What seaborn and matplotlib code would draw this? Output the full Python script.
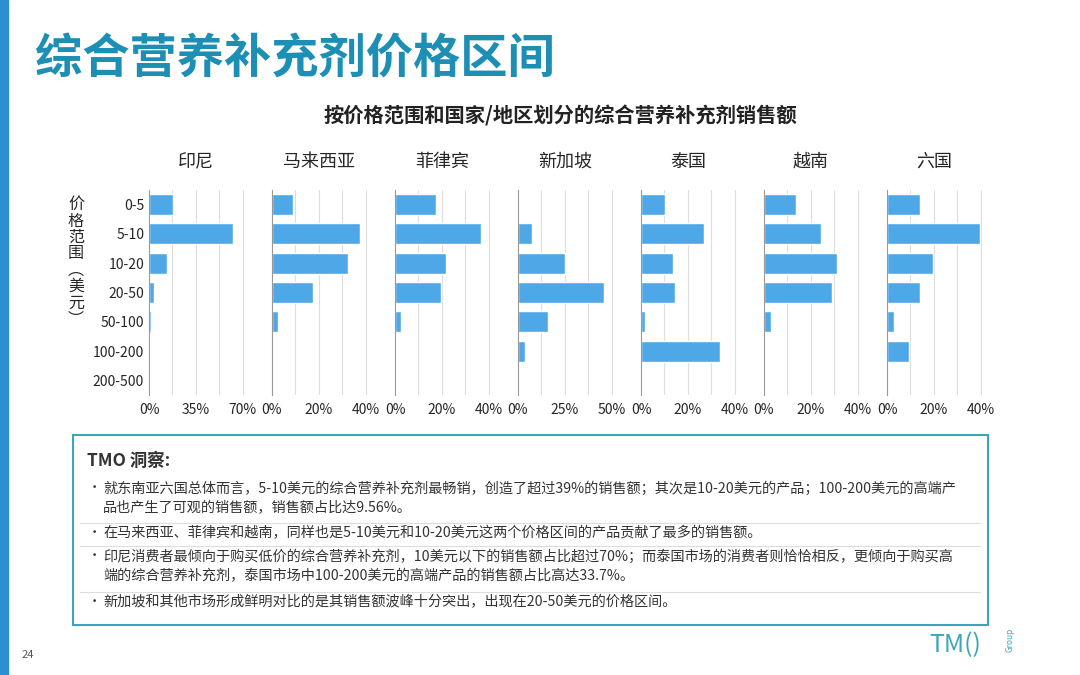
import matplotlib
matplotlib.use("Agg")
import matplotlib.pyplot as plt
import seaborn as sns
import pandas as pd
from matplotlib.patches import Rectangle

sns.set_theme(style="white")
plt.rcParams['font.family'] = ['Noto Sans CJK SC', 'DejaVu Sans']

price_ranges = ["0-5", "5-10", "10-20", "20-50", "50-100", "100-200", "200-500"]
countries = ["印尼", "马来西亚", "菲律宾", "新加坡", "泰国", "越南", "六国"]
indonesia = [17.9, 62.6, 13.4, 3.7, 1.5, 0, 0]
malaysia = [9.0, 37.4, 32.3, 17.4, 2.6, 0, 0]
philippines = [17.4, 36.6, 21.7, 19.6, 2.6, 0.4, 0]
singapore = [0.5, 7.4, 25.0, 45.7, 16.0, 3.7, 0]
thailand = [10.2, 26.8, 13.6, 14.5, 1.7, 33.7, 0]
vietnam = [13.6, 24.3, 31.0, 28.9, 3.0, 0, 0]
six = [14.0, 39.6, 19.6, 14.0, 2.9, 9.56, 0]
series = [indonesia, malaysia, philippines, singapore, thailand, vietnam, six]
tick_steps = [35, 20, 20, 25, 20, 20, 20]
grid_steps = [17.5, 10, 10, 12.5, 10, 10, 10]
xmax = [83.5, 47.7, 47.7, 59.6, 47.7, 47.7, 47.7]

W, H = 1080, 675
fig = plt.figure(figsize=(10.8, 6.75), dpi=100)
fig.patch.set_facecolor("white")

def fx(px): return px / W
def fy(py): return 1 - py / H

# left accent strip
fig.patches.append(Rectangle((0, 0), fx(8), 1, transform=fig.transFigure,
                             color="#2d8fd0", zorder=0))
fig.text(fx(35), fy(60), "综合营养补充剂价格区间", fontsize=34, fontweight="bold",
         color="#1d8fb5", va="center")
fig.text(fx(560), fy(116), "按价格范围和国家/地区划分的综合营养补充剂销售额",
         fontsize=14.6, fontweight="bold", color="#222222", ha="center", va="center")

bar_color = "#4ea8e8"
for i, (name, vals) in enumerate(zip(countries, series)):
    left = 149 + i * 123
    ax = fig.add_axes([fx(left), fy(395), fx(112), fy(190) - fy(395)])
    df = pd.DataFrame({"range": price_ranges, "share": vals})
    sns.barplot(data=df, x="share", y="range", orient="h", color=bar_color,
                width=0.72, ax=ax, saturation=1)
    ax.set_xlim(0, xmax[i])
    g = grid_steps[i]
    for k in range(1, 5):
        ax.axvline(g * k, color="#dddddd", lw=0.8, zorder=0)
    t = tick_steps[i]
    ax.set_xticks([0, t, 2 * t])
    ax.set_xticklabels([f"{v}%" for v in (0, t, 2 * t)], fontsize=10)
    ax.tick_params(axis="x", length=0, pad=6)
    for s in ["top", "right", "bottom"]:
        ax.spines[s].set_visible(False)
    ax.spines["left"].set_color("#999999")
    ax.spines["left"].set_linewidth(0.8)
    ax.set_xlabel("")
    ax.set_ylabel("")
    if i == 0:
        ax.tick_params(axis="y", length=0, labelsize=10)
    else:
        ax.set_yticklabels([])
        ax.tick_params(axis="y", length=0)
    fig.text(fx(left + 47), fy(162), name, fontsize=13, ha="center", va="center")

fig.text(fx(76), fy(262), "价\n格\n范\n围\n︵\n美\n元\n︶", fontsize=11.5,
         ha="center", va="center", linespacing=0.95)

# insight box
fig.patches.append(Rectangle((fx(73), fy(625)), fx(988 - 73), fy(435) - fy(625),
                             transform=fig.transFigure, fill=False,
                             edgecolor="#3aa6b9", lw=1.5))
fig.text(fx(87), fy(461), "TMO 洞察:", fontsize=12.5, fontweight="bold",
         color="#333333", va="center")
bullets = [
    (490, "就东南亚六国总体而言，5-10美元的综合营养补充剂最畅销，创造了超过39%的销售额；其次是10-20美元的产品；100-200美元的高端产\n品也产生了可观的销售额，销售额占比达9.56%。"),
    (535, "在马来西亚、菲律宾和越南，同样也是5-10美元和10-20美元这两个价格区间的产品贡献了最多的销售额。"),
    (558, "印尼消费者最倾向于购买低价的综合营养补充剂，10美元以下的销售额占比超过70%；而泰国市场的消费者则恰恰相反，更倾向于购买高\n端的综合营养补充剂，泰国市场中100-200美元的高端产品的销售额占比高达33.7%。"),
    (604, "新加坡和其他市场形成鲜明对比的是其销售额波峰十分突出，出现在20-50美元的价格区间。"),
]
for y, txt in bullets:
    fig.text(fx(88), fy(y - 9), "•", fontsize=9.5, color="#333333", va="top")
    fig.text(fx(103), fy(y - 9), txt, fontsize=10.2, color="#333333", va="top",
             linespacing=1.5)
for y in (523, 546, 592):
    fig.lines.append(plt.Line2D([fx(80), fx(980)], [fy(y), fy(y)],
                                transform=fig.transFigure, color="#dddddd", lw=0.8))

fig.text(fx(22), fy(655), "24", fontsize=8, color="#555555", va="center")
fig.text(fx(955), fy(645), "TM()", fontsize=18, color="#3aa6b9", ha="center", va="center")
fig.text(fx(1010), fy(640), "Group", fontsize=6, color="#3aa6b9", ha="center",
         va="center", rotation=90)

fig.savefig("out.png", dpi=100)
